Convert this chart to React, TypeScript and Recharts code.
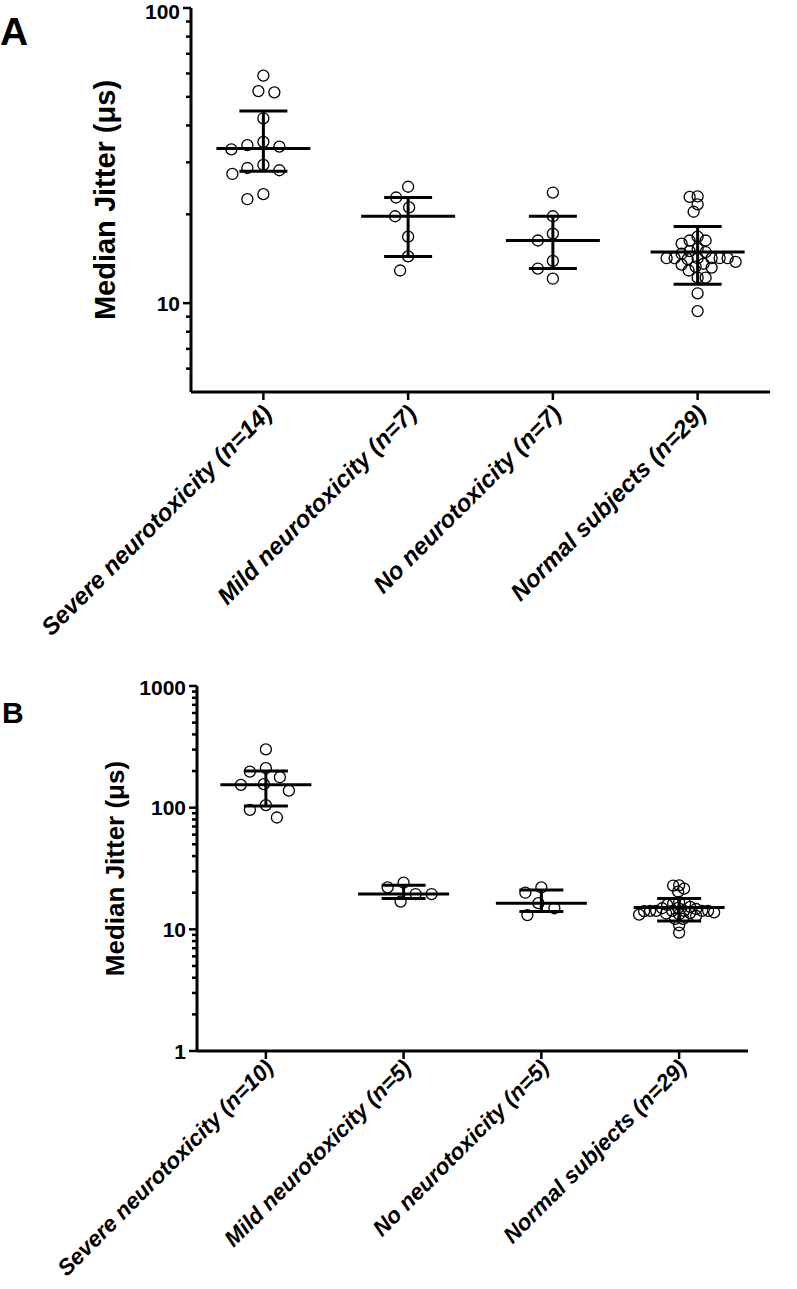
import React from 'react';
import { ScatterChart, Scatter, XAxis, YAxis, ErrorBar } from 'recharts';

// ---------- data ----------
const groupsA = ['Severe neurotoxicity (n=14)', 'Mild neurotoxicity (n=7)', 'No neurotoxicity (n=7)', 'Normal subjects (n=29)'];
const groupsB = ['Severe neurotoxicity (n=10)', 'Mild neurotoxicity (n=5)', 'No neurotoxicity (n=5)', 'Normal subjects (n=29)'];

const severeA = [59.0, 52.3, 51.8, 42.3, 35.2, 34.3, 33.9, 33.2, 29.4, 28.7, 28.2, 27.4, 23.4, 22.5];
const mildA = [24.8, 22.8, 21.1, 19.7, 16.8, 14.4, 12.9];
const noneA = [23.7, 19.7, 17.2, 16.3, 13.9, 13.1, 12.1];
const normalSubjects = [23.0, 22.9, 21.6, 20.4, 16.8, 16.3, 16.3, 15.9, 15.3, 15.0, 14.9, 14.7, 14.2, 14.2, 14.2, 14.2, 14.2, 14.2, 14.1, 13.8, 13.5, 13.2, 12.9, 13.3, 13.6, 12.2, 12.2, 10.8, 9.4];

const severeB = [301, 211, 198, 178, 156, 154, 138, 105, 96, 83];
const mildB = [24.2, 22.1, 19.5, 19.5, 16.9];
const noneB = [22.1, 20.0, 16.4, 14.9, 13.1];

const medianA = [33.4, 19.7, 16.3, 14.9];
const lowA = [28.0, 14.4, 13.1, 11.6];
const highA = [44.8, 22.8, 19.7, 18.2];

const medianB = [154, 19.5, 16.4, 15.1];
const lowB = [103, 17.9, 14.0, 11.7];
const highB = [200, 23.0, 21.1, 17.9];

const majorTicksA = [10, 100];
const minorTicksA = [6, 7, 8, 9, 20, 30, 40, 50, 60, 70, 80, 90];
const majorTicksB = [1, 10, 100, 1000];
const minorTicksB = [2, 3, 4, 5, 6, 7, 8, 9, 20, 30, 40, 50, 60, 70, 80, 90, 200, 300, 400, 500, 600, 700, 800, 900];

const FONT = '"Liberation Sans", Arial, Helvetica, sans-serif';

// simple beeswarm: returns horizontal pixel offsets
function swarm(values: number[], pxPerDecade: number, d: number, step: number): number[] {
  const order = values.map((_, i) => i).sort((a, b) => values[b] - values[a]);
  const placed: { x: number; y: number }[] = [];
  const out = new Array(values.length).fill(0);
  for (const i of order) {
    const y = -Math.log10(values[i]) * pxPerDecade;
    let chosen = 0;
    for (let k = 0; k < 400; k++) {
      const cand = k === 0 ? 0 : (k % 2 === 1 ? -1 : 1) * Math.ceil(k / 2) * step;
      if (placed.every((p) => Math.hypot(p.x - cand, p.y - y) >= d)) {
        chosen = cand;
        break;
      }
    }
    placed.push({ x: chosen, y });
    out[i] = chosen;
  }
  return out;
}

// shrink the spacing until the swarm fits the allowed half width
function fitSwarm(values: number[], pxPerDecade: number, maxHalf: number): number[] {
  let d = 16;
  let offs = swarm(values, pxPerDecade, d, 1);
  while (Math.max(...offs.map(Math.abs)) > maxHalf && d > 3) {
    d -= 0.5;
    offs = swarm(values, pxPerDecade, d, 1);
  }
  return offs;
}

type PanelProps = {
  width: number;
  height: number;
  margin: { top: number; right: number; left: number; bottom: number };
  yAxisWidth: number;
  xAxisHeight: number;
  domain: [number, number];
  groups: string[];
  series: number[][];
  median: number[];
  low: number[];
  high: number[];
  majors: number[];
  minors: number[];
  tickFont: number;
  catFont: number;
  titleFont: number;
  titleX: number;
  medianHalf: number;
  capHalf: number;
  labelDx: number;
  labelDy: number;
};

function Panel(p: PanelProps) {
  const plotW = p.width - p.margin.left - p.margin.right - p.yAxisWidth;
  const plotH = p.height - p.margin.top - p.margin.bottom - p.xAxisHeight;
  const band = plotW / p.groups.length;
  const pxPerDecade = plotH / (Math.log10(p.domain[1]) - Math.log10(p.domain[0]));

  const points: { x: number; y: number }[] = [];
  p.series.forEach((vals, gi) => {
    const offs = fitSwarm(vals, pxPerDecade, 40);
    vals.forEach((v, j) => points.push({ x: gi + offs[j] / band, y: v }));
  });
  const stats = p.groups.map((_, i) => ({
    x: i,
    y: p.median[i],
    err: [p.median[i] - p.low[i], p.high[i] - p.median[i]],
  }));

  const ticks = [...p.minors, ...p.majors].sort((a, b) => a - b);

  const yTick = (t: any) => {
    const major = p.majors.includes(t.payload.value);
    const baseline = Math.max(t.y + 0.36 * p.tickFont, 0.92 * p.tickFont);
    return (
      <g>
        <line x1={t.x - (major ? 8 : 5)} x2={t.x} y1={t.y} y2={t.y} stroke="#000" strokeWidth={2.5} />
        {major && (
          <text x={t.x - 11} y={baseline} textAnchor="end" fontSize={p.tickFont} fontWeight="bold" fontFamily={FONT} fill="#000">
            {t.payload.value}
          </text>
        )}
      </g>
    );
  };

  const xTick = (t: any) => (
    <g>
      <line x1={t.x} x2={t.x} y1={t.y} y2={t.y + 8} stroke="#000" strokeWidth={2.5} />
      <text
        transform={`translate(${t.x + p.labelDx},${t.y + p.labelDy}) rotate(-45)`}
        textAnchor="end"
        fontSize={p.catFont}
        fontWeight="bold"
        fontStyle="italic"
        fontFamily={FONT}
        fill="#000"
      >
        {p.groups[t.payload.value]}
      </text>
    </g>
  );

  const yLabel = (lp: any) => {
    const vb = lp.viewBox || {};
    const cx = p.titleX;
    const cy = (vb.y ?? 0) + (vb.height ?? 0) / 2;
    return (
      <text
        transform={`translate(${cx},${cy}) rotate(-90)`}
        textAnchor="middle"
        dy="0.36em"
        fontSize={p.titleFont}
        fontWeight="bold"
        fontFamily={FONT}
        fill="#000"
      >
        Median Jitter (μs)
      </text>
    );
  };

  return (
    <ScatterChart width={p.width} height={p.height} margin={p.margin}>
      <XAxis
        type="number"
        dataKey="x"
        domain={[-0.5, p.groups.length - 0.5]}
        ticks={p.groups.map((_, i) => i)}
        interval={0}
        height={p.xAxisHeight}
        tickSize={0}
        tickMargin={0}
        tickLine={false}
        axisLine={{ stroke: '#000', strokeWidth: 3 }}
        tick={xTick}
        allowDataOverflow
      />
      <YAxis
        type="number"
        dataKey="y"
        scale="log"
        domain={p.domain}
        ticks={ticks}
        interval={0}
        width={p.yAxisWidth}
        tickSize={0}
        tickMargin={0}
        tickLine={false}
        axisLine={{ stroke: '#000', strokeWidth: 3 }}
        tick={yTick}
        label={yLabel}
        allowDataOverflow
      />
      <Scatter
        data={points}
        isAnimationActive={false}
        shape={(s: any) => <circle cx={s.cx} cy={s.cy} r={5.5} fill="none" stroke="#000" strokeWidth={1.3} />}
      />
      <Scatter
        data={stats}
        isAnimationActive={false}
        shape={(s: any) => (
          <line x1={s.cx - p.medianHalf} x2={s.cx + p.medianHalf} y1={s.cy} y2={s.cy} stroke="#000" strokeWidth={3} />
        )}
      >
        <ErrorBar dataKey="err" direction="y" width={p.capHalf} stroke="#000" strokeWidth={3} isAnimationActive={false} />
      </Scatter>
    </ScatterChart>
  );
}

export default function App() {
  return (
    <div style={{ position: 'absolute', left: 0, top: 0, width: 797, height: 1289, background: '#fff' }}>
      <svg style={{ position: 'absolute', left: 0, top: 0 }} width={60} height={60}>
        <text x={0} y={45} fontSize={39} fontWeight="bold" fontFamily={FONT} fill="#000">A</text>
      </svg>
      <div style={{ position: 'absolute', left: 0, top: 0 }}>
        <Panel
          width={797}
          height={676}
          margin={{ top: 8, right: 27, left: 0, bottom: 0 }}
          yAxisWidth={191}
          xAxisHeight={284}
          domain={[5, 100]}
          groups={groupsA}
          series={[severeA, mildA, noneA, normalSubjects]}
          median={medianA}
          low={lowA}
          high={highA}
          majors={majorTicksA}
          minors={minorTicksA}
          tickFont={21}
          catFont={24}
          titleFont={29}
          titleX={105}
          medianHalf={47}
          capHalf={24}
          labelDx={10}
          labelDy={23}
        />
      </div>
      <svg style={{ position: 'absolute', left: 0, top: 676 }} width={60} height={60}>
        <text x={2} y={47} fontSize={30} fontWeight="bold" fontFamily={FONT} fill="#000">B</text>
      </svg>
      <div style={{ position: 'absolute', left: 0, top: 676 }}>
        <Panel
          width={797}
          height={613}
          margin={{ top: 10, right: 49, left: 0, bottom: 0 }}
          yAxisWidth={197}
          xAxisHeight={238}
          domain={[1, 1000]}
          groups={groupsB}
          series={[severeB, mildB, noneB, normalSubjects]}
          median={medianB}
          low={lowB}
          high={highB}
          majors={majorTicksB}
          minors={minorTicksB}
          tickFont={21}
          catFont={22.5}
          titleFont={26}
          titleX={115}
          medianHalf={45.5}
          capHalf={22}
          labelDx={9}
          labelDy={18}
        />
      </div>
    </div>
  );
}
